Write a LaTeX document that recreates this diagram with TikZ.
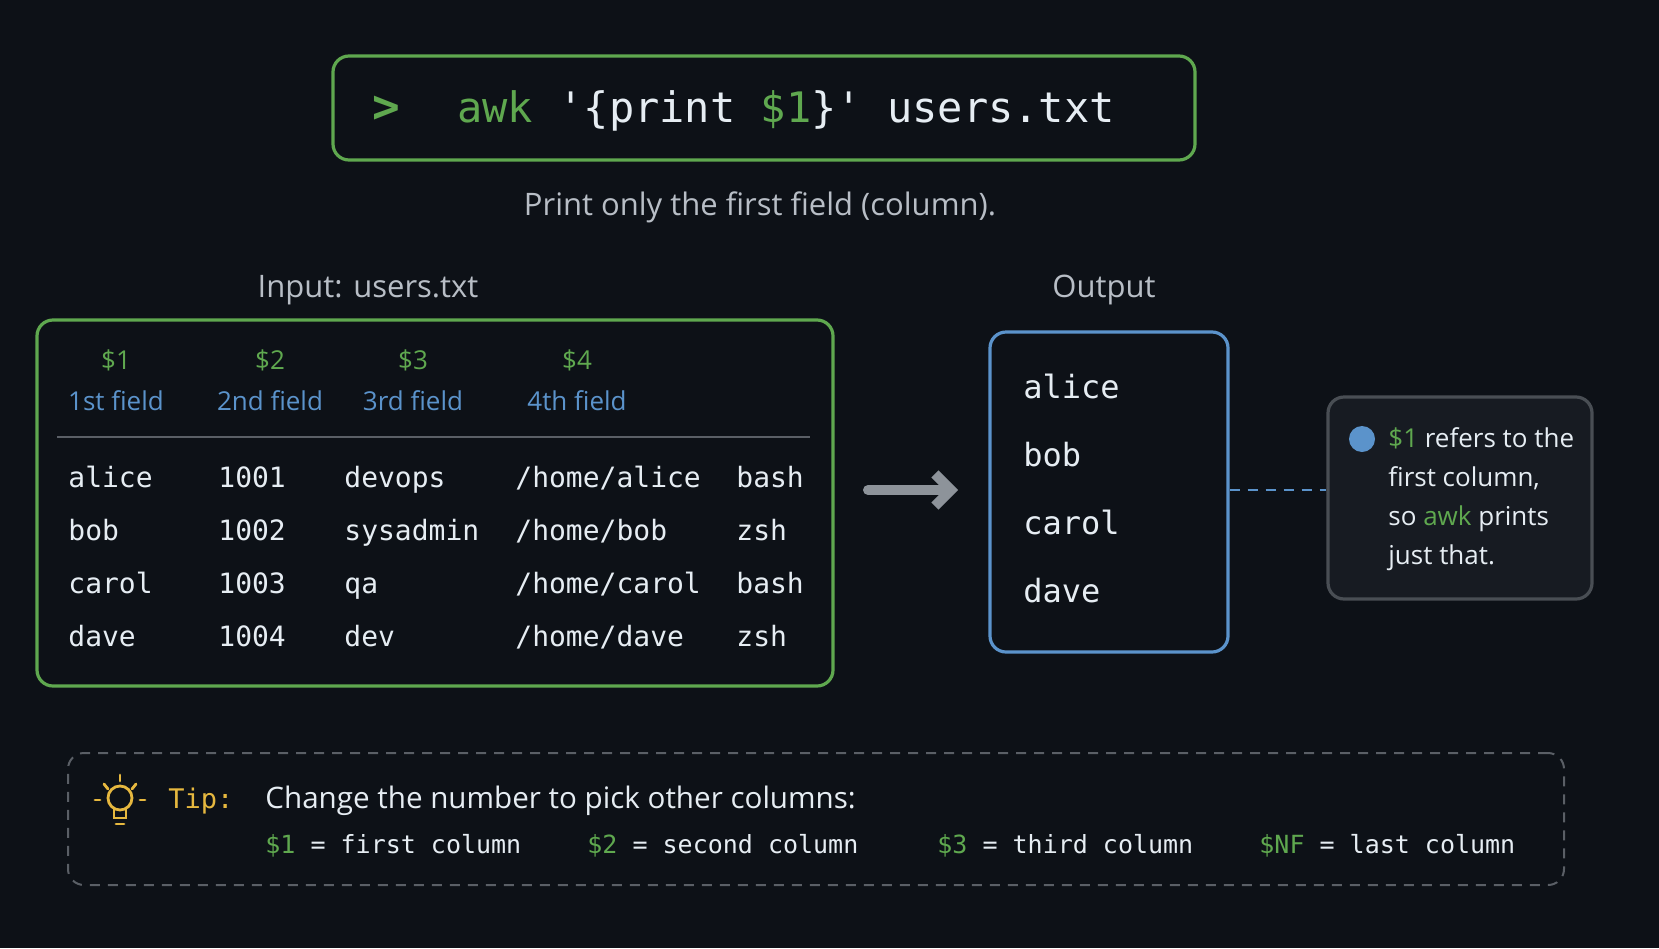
\documentclass[tikz,border=0pt]{standalone}
\usepackage{fontspec}
\setmainfont{Open Sans}
\setmonofont{DejaVu Sans Mono}
\usetikzlibrary{positioning,arrows.meta}
\definecolor{bg}{HTML}{0D1117}
\definecolor{termgreen}{HTML}{5FA84F}
\definecolor{termblue}{HTML}{5B93CB}
\definecolor{termtext}{HTML}{E6EDF3}
\definecolor{termgray}{HTML}{B8BEC6}
\definecolor{tipyellow}{HTML}{E6B83F}
\tikzset{
	panel/.style = {draw, rounded corners=8pt, line width=1.6pt, fill=bg},
	mono/.style = {font=\ttfamily\fontsize{14}{16}\selectfont, text=termtext, anchor=base west, inner sep=0pt},
	caption/.style = {font=\fontsize{15.5}{18}\selectfont, text=termgray, inner sep=0pt},
	field/.style = {font=\fontsize{13}{15}\selectfont, inner sep=0pt},
}
\begin{document}
\begin{tikzpicture}[x=0.5pt, y=-0.5pt]
	\fill[bg] (0,0) rectangle (1659,948);
	\useasboundingbox (0,0) rectangle (1659,948);

	% command
	\node (CMD) [panel, draw=termgreen, minimum width=431pt, minimum height=52pt] at (764,108) {};
	\node (PROMPT) [font=\ttfamily\bfseries\fontsize{23}{24}\selectfont, text=termgreen, anchor=base west, inner sep=0pt] at (372,122) {>};
	\node (AWK) [font=\ttfamily\fontsize{21}{24}\selectfont, text=termtext, anchor=base west, inner sep=0pt] at (457,122)
		{\textcolor{termgreen}{awk} '\{print \textcolor{termgreen}{\$1}\}' users.txt};
	\node (SUB) [caption] at (760,207) {Print only the first field (column).};

	% input table
	\node (IN_LABEL) [caption] at (368,290) {Input: users.txt};
	\node (IN) [panel, draw=termgreen, minimum width=398pt, minimum height=183pt] at (435,503) {};
	\foreach \x/\d/\t in {116/1/1st, 270/2/2nd, 413/3/3rd, 577/4/4th} {
		\node [field, text=termgreen] at (\x,360) {\$\d};
		\node [field, text=termblue] at (\x,401) {\t{} field};
	}
	\draw[termgray!45!bg, line width=1.4pt] (57,437) -- (810,437);
	\foreach \n/\id/\g/\s [count=\i] in {alice/1001/devops/bash, bob/1002/sysadmin/zsh, carol/1003/qa/bash, dave/1004/dev/zsh} {
		\pgfmathsetmacro{\ry}{487+53*(\i-1)}
		\node [mono] at (68,\ry) {\n};
		\node [mono] at (218,\ry) {\id};
		\node [mono] at (344,\ry) {\g};
		\node [mono] at (515,\ry) {/home/\n};
		\node [mono] at (736,\ry) {\s};
	}

	% output
	\node (OUT_LABEL) [caption] at (1104,290) {Output};
	\node (OUT) [panel, draw=termblue, minimum width=119pt, minimum height=160pt] at (1109,492) {};
	\foreach \n [count=\i] in {alice, bob, carol, dave}
		\node [mono, font=\ttfamily\fontsize{16}{18}\selectfont] at (1023,330+68*\i) {\n};

	\draw[-{Straight Barb[length=8pt, width=16pt]}, line width=5pt, line cap=round, termgray!75!bg] (868,490) -- (958,490);

	% note
	\node (NOTE) [panel, draw=termgray!35!bg, fill=termgray!6!bg, minimum width=132pt, minimum height=101pt] at (1460,498) {};
	\draw[dashed, dash pattern=on 5pt off 4pt, termblue, line width=1.4pt] (OUT.east |- 0,490) -- (NOTE.west |- 0,490);
	\fill[termblue] (1362,439) circle (6.5pt);
	\node [field, text=termtext, anchor=west, align=left, font=\fontsize{13}{19.6}\selectfont] at (1388,499)
		{\textcolor{termgreen}{\$1} refers to the\\first column,\\so \textcolor{termgreen}{awk} prints\\just that.};

	% tip
	\node (TIP) [draw=termgray!45!bg, dash pattern=on 5pt off 4pt, line width=1pt, rounded corners=8pt, minimum width=748pt, minimum height=66pt] at (816,819) {};
	\begin{scope}[tipyellow, line width=1.4pt, line cap=round]
		\draw (120,798) circle (6pt);
		\draw (114,809) -- (114,818) -- (126,818) -- (126,809);
		\draw (116,824) -- (124,824);
		\draw (120,775) -- (120,781);
		\draw (104,784) -- (108,789); \draw (136,784) -- (132,789);
		\draw (95,800) -- (100,800); \draw (140,800) -- (145,800);
	\end{scope}
	\node (TIP_LABEL) [mono, text=tipyellow, font=\ttfamily\fontsize{13.5}{15}\selectfont] at (168,808) {Tip:};
	\node (TIP_TEXT) [mono, text=termtext, font=\fontsize{14.8}{17}\selectfont] at (265,808) {Change the number to pick other columns:};
	\foreach \x/\v/\w in {265/1/first, 587/2/second, 937/3/third, 1259/NF/last}
		\node [mono, font=\ttfamily\fontsize{12.5}{15}\selectfont] at (\x,853) {\textcolor{termgreen}{\$\v} = \w{} column};
\end{tikzpicture}
\end{document}
